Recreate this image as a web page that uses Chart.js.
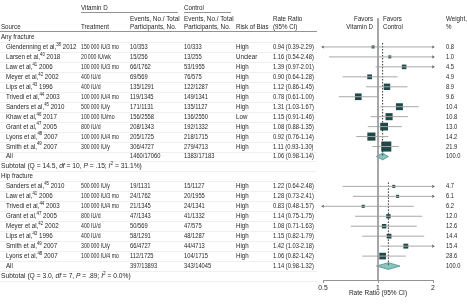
<!DOCTYPE html>
<html>
<head>
<meta charset="utf-8">
<script src="https://cdn.jsdelivr.net/npm/chart.js@4.4.1/dist/chart.umd.min.js"></script>
<style>
  html, body { margin: 0; padding: 0; background: #fff; }
  #wrap { width: 467px; height: 304px; position: relative; }
</style>
</head>
<body>
<div id="wrap"><canvas id="forest"></canvas></div>
<script>
// ---- any fracture
var anyAuthor = ['Glendenning et al', 'Larsen et al', 'Law et al', 'Meyer et al', 'Lips et al', 'Trivedi et al', 'Sanders et al', 'Khaw et al', 'Grant et al', 'Lyons et al', 'Smith et al'];
var anyRef = ['38', '40', '41', '42', '43', '44', '45', '46', '47', '48', '49'];
var anyYear = ['2012', '2018', '2006', '2002', '1996', '2003', '2010', '2017', '2005', '2007', '2007'];
var anyDose = ['150\u2009000 IU/3 mo', '20\u2009000 IU/wk', '100\u2009000 IU/3 mo', '400 IU/d', '400 IU/d', '100\u2009000 IU/4 mo', '500\u2009000 IU/y', '100\u2009000 IU/mo', '800 IU/d', '100\u2009000 IU/4 mo', '300\u2009000 IU/y'];
var anyVitD = ['10/353', '15/256', '66/1762', '69/569', '135/1291', '119/1345', '171/1131', '156/2558', '208/1343', '205/1725', '306/4727'];
var anyCtrl = ['10/333', '13/255', '53/1955', '76/575', '122/1287', '149/1341', '135/1127', '136/2550', '192/1332', '218/1715', '279/4713'];
var anyBias = ['High', 'Unclear', 'High', 'High', 'High', 'High', 'High', 'Low', 'High', 'High', 'High'];
var anyRR = [0.94, 1.16, 1.39, 0.90, 1.12, 0.78, 1.31, 1.15, 1.08, 0.92, 1.11];
var anyLo = [0.39, 0.54, 0.97, 0.64, 0.86, 0.61, 1.03, 0.91, 0.88, 0.76, 0.93];
var anyHi = [2.29, 2.48, 2.01, 1.28, 1.45, 1.00, 1.67, 1.46, 1.35, 1.14, 1.30];
var anyWeight = [0.8, 1.0, 4.5, 4.9, 8.9, 9.6, 10.4, 10.8, 13.0, 14.2, 21.9];
var anyPooled = [1.06, 0.98, 1.14];
var anyPooledEvents = ['1460/17060', '1383/17183'];
var anySubtotal = [['Subtotal (Q = 14.5, ', 'n'], ['df', 'i'], [' = 10, ', 'n'], ['P', 'i'], [' = .15; ', 'n'], ['I', 'i'], ['2', 'sup'], [' = 31.1%)', 'n']];

// ---- hip fracture
var hipAuthor = ['Sanders et al', 'Law et al', 'Trivedi et al', 'Grant et al', 'Meyer et al', 'Lips et al', 'Smith et al', 'Lyons et al'];
var hipRef = ['45', '41', '44', '47', '42', '43', '49', '48'];
var hipYear = ['2010', '2006', '2003', '2005', '2002', '1996', '2007', '2007'];
var hipDose = ['500\u2009000 IU/y', '100\u2009000 IU/3 mo', '100\u2009000 IU/4 mo', '800 IU/d', '400 IU/d', '400 IU/d', '300\u2009000 IU/y', '100\u2009000 IU/4 mo'];
var hipVitD = ['19/1131', '24/1762', '21/1345', '47/1343', '50/569', '58/1291', '66/4727', '112/1725'];
var hipCtrl = ['15/1127', '20/1955', '24/1341', '41/1332', '47/575', '48/1287', '44/4713', '104/1715'];
var hipBias = ['High', 'High', 'High', 'High', 'High', 'High', 'High', 'High'];
var hipRR = [1.22, 1.28, 0.83, 1.14, 1.08, 1.15, 1.42, 1.06];
var hipLo = [0.64, 0.73, 0.48, 0.75, 0.71, 0.82, 1.03, 0.82];
var hipHi = [2.48, 2.41, 1.57, 1.75, 1.63, 1.79, 2.18, 1.42];
var hipWeight = [4.7, 6.1, 6.2, 12.0, 12.6, 14.4, 15.4, 28.6];
var hipPooled = [1.14, 0.98, 1.32];
var hipPooledEvents = ['397/13893', '343/14045'];
var hipSubtotal = [['Subtotal (Q = 3.0, ', 'n'], ['df', 'i'], [' = 7, ', 'n'], ['P', 'i'], [' = .89; ', 'n'], ['I', 'i'], ['2', 'sup'], [' = 0.0%)', 'n']];

var axisTicks = [0.5, 1, 2];

// ---- styling
var FONT = "'Liberation Sans', Arial, sans-serif";
var FS = 7.2;
var SX = 0.86;      // horizontal squeeze to mimic the condensed journal face
var INK = '#262626';
var SQUARE = '#1f4848';
var CI_GRAY = '#a8a8a8';
var RULE = '#ececec';
var XMIN = axisTicks[0], XMAX = axisTicks[axisTicks.length - 1];

// build the table rows
var rows = [];
function addGroup(title, author, ref, year, dose, vitd, ctrl, bias, rr, lo, hi, w, pooled, pooledEv, subtotal, scale) {
  rows.push({ kind: 'group', text: title });
  for (var i = 0; i < author.length; i++) {
    rows.push({ kind: 'study', author: author[i], ref: ref[i], year: year[i], dose: dose[i], vitd: vitd[i], ctrl: ctrl[i],
      bias: bias[i], rr: rr[i], lo: lo[i], hi: hi[i], w: w[i], scale: scale });
  }
  rows.push({ kind: 'all', vitd: pooledEv[0], ctrl: pooledEv[1], rr: pooled[0], lo: pooled[1], hi: pooled[2], w: 100 });
  rows.push({ kind: 'subtotal', parts: subtotal });
}
addGroup('Any fracture', anyAuthor, anyRef, anyYear, anyDose, anyVitD, anyCtrl, anyBias, anyRR, anyLo, anyHi, anyWeight, anyPooled, anyPooledEvents, anySubtotal, 2.15);
addGroup('Hip fracture', hipAuthor, hipRef, hipYear, hipDose, hipVitD, hipCtrl, hipBias, hipRR, hipLo, hipHi, hipWeight, hipPooled, hipPooledEvents, hipSubtotal, 1.25);

function fmt(v) { return v.toFixed(2); }
function clampX(v) { return Math.min(XMAX, Math.max(XMIN, v)); }

// datasets from rows
var ciData = [], arrowData = [], arrowRot = [], sqData = [], sqRadius = [], diamonds = [], dotted = [];
var groupStart = 0;
rows.forEach(function (r, i) {
  if (r.kind === 'group') groupStart = i;
  if (r.kind === 'study') {
    ciData.push({ x: clampX(r.lo), y: i }, { x: clampX(r.hi), y: i }, { x: null, y: null });
    if (r.lo < XMIN) { arrowData.push({ x: XMIN, y: i }); arrowRot.push(-90); }
    if (r.hi > XMAX) { arrowData.push({ x: XMAX, y: i }); arrowRot.push(90); }
    var side = Math.max(3, r.scale * Math.sqrt(r.w));
    sqData.push({ x: r.rr, y: i });
    sqRadius.push(side / Math.SQRT2);
  }
  if (r.kind === 'all') {
    var h = 0.34;
    diamonds.push([{ x: r.lo, y: i }, { x: r.rr, y: i - h }, { x: r.hi, y: i }, { x: r.rr, y: i + h }, { x: r.lo, y: i }]);
    dotted.push([{ x: r.rr, y: groupStart + 0.6 }, { x: r.rr, y: i }]);
  }
});

var datasets = [
  { type: 'scatter', data: [{ x: 1, y: -1.9 }, { x: 1, y: rows.length - 0.6 }], showLine: true, borderColor: '#9a9a9a', borderWidth: 1, pointRadius: 0, clip: false },
  { type: 'scatter', data: ciData, showLine: true, spanGaps: false, borderColor: CI_GRAY, borderWidth: 1, pointRadius: 0, clip: false },
  { type: 'scatter', data: arrowData, pointStyle: 'triangle', rotation: arrowRot, pointRadius: 1.8, backgroundColor: '#555', borderWidth: 0, clip: false }
];
dotted.forEach(function (d) {
  datasets.push({ type: 'scatter', data: d, showLine: true, borderColor: '#333', borderWidth: 1, borderDash: [1.5, 1.5], pointRadius: 0, clip: false });
});
datasets.push({ type: 'scatter', data: sqData, pointStyle: 'rect', pointRadius: sqRadius, backgroundColor: SQUARE, borderWidth: 0, clip: false });
diamonds.forEach(function (d) {
  datasets.push({ type: 'line', data: d, fill: 'shape', backgroundColor: '#86c4bc', borderColor: '#4f928b', borderWidth: 0.8, pointRadius: 0, tension: 0, clip: false });
});

// squeezed text helpers
function put(ctx, str, x, y, sx, align) {
  ctx.save();
  ctx.translate(x, y);
  ctx.scale(sx || SX, 1);
  ctx.textAlign = align || 'left';
  ctx.fillText(str, 0, 0);
  ctx.restore();
}
function drawRich(ctx, parts, x, y, sx) {
  parts.forEach(function (p) {
    var t = p[0], s = p[1];
    ctx.font = (s === 'i' ? 'italic ' : '') + (s === 'sup' ? FS * 0.7 : FS) + 'px ' + FONT;
    put(ctx, t, x, s === 'sup' ? y - FS * 0.35 : y, sx);
    x += ctx.measureText(t).width * sx;
  });
  ctx.font = FS + 'px ' + FONT;
}

var COL = { src: 1, study: 6, dose: 81, vitd: 130, ctrl: 184, bias: 236, rr: 273, w: 446 };

var tablePlugin = {
  id: 'table',
  afterDraw: function (chart) {
    var ctx = chart.ctx, ys = chart.scales.y, xs = chart.scales.x;
    ctx.save();
    ctx.fillStyle = INK;
    ctx.textBaseline = 'middle';
    ctx.font = FS + 'px ' + FONT;

    // header
    put(ctx, 'Vitamin D', COL.dose, 8.5);
    put(ctx, 'Control', COL.ctrl, 8.5);
    put(ctx, 'Events, No./ Total', COL.vitd, 19, 0.88);
    put(ctx, 'Participants, No.', COL.vitd, 27, 0.88);
    put(ctx, 'Events, No./ Total', COL.ctrl, 19, 0.88);
    put(ctx, 'Participants, No.', COL.ctrl, 27, 0.88);
    put(ctx, 'Source', COL.src, 27);
    put(ctx, 'Treatment', COL.dose, 27);
    put(ctx, 'Risk of Bias', COL.bias, 27);
    put(ctx, 'Rate Ratio', COL.rr, 19);
    put(ctx, '(95% CI)', COL.rr, 27);
    put(ctx, 'Weight,', COL.w, 19);
    put(ctx, '%', COL.w, 27);
    var p1 = xs.getPixelForValue(1);
    put(ctx, 'Favors', p1 - 5, 19, SX, 'right');
    put(ctx, 'Vitamin D', p1 - 5, 27, SX, 'right');
    put(ctx, 'Favors', p1 + 5, 19);
    put(ctx, 'Control', p1 + 5, 27);

    ctx.strokeStyle = '#777';
    ctx.lineWidth = 0.8;
    ctx.beginPath();
    ctx.moveTo(COL.dose, 12.5); ctx.lineTo(178, 12.5);
    ctx.moveTo(COL.ctrl, 12.5); ctx.lineTo(231, 12.5);
    ctx.moveTo(0, 31.5); ctx.lineTo(317, 31.5);
    ctx.stroke();

    // row rules
    ctx.strokeStyle = RULE;
    ctx.lineWidth = 0.8;
    ctx.beginPath();
    for (var k = 0; k < rows.length; k++) {
      var yy = Math.round(ys.getPixelForValue(k + 0.5)) + 0.5;
      ctx.moveTo(0, yy); ctx.lineTo(317, yy);
    }
    ctx.stroke();

    rows.forEach(function (r, i) {
      var y = ys.getPixelForValue(i);
      ctx.font = FS + 'px ' + FONT;
      ctx.fillStyle = INK;
      if (r.kind === 'group') {
        put(ctx, r.text, COL.src, y);
      } else if (r.kind === 'subtotal') {
        drawRich(ctx, r.parts, COL.src, y, 0.93);
      } else {
        if (r.kind === 'study') {
          drawRich(ctx, [[r.author + ',', 'n'], [r.ref, 'sup'], [' ' + r.year, 'n']], COL.study, y, 0.86);
          put(ctx, r.dose, COL.dose, y, 0.72);
          put(ctx, r.bias, COL.bias, y);
        } else {
          put(ctx, 'All', COL.study, y);
        }
        put(ctx, r.vitd, COL.vitd, y, 0.8);
        put(ctx, r.ctrl, COL.ctrl, y, 0.8);
        put(ctx, fmt(r.rr) + ' (' + fmt(r.lo) + '-' + fmt(r.hi) + ')', COL.rr, y, 0.8);
        put(ctx, r.w.toFixed(1), COL.w, y, 0.8);
      }
    });
    ctx.restore();
  }
};

var chart = new Chart(document.getElementById('forest').getContext('2d'), {
  type: 'scatter',
  data: { datasets: datasets },
  options: {
    responsive: true,
    maintainAspectRatio: false,
    animation: false,
    devicePixelRatio: 1,
    layout: { padding: { left: 323, right: 34, top: 3.76, bottom: 0 } },
    plugins: { legend: { display: false }, tooltip: { enabled: false } },
    scales: {
      x: {
        type: 'logarithmic',
        min: XMIN,
        max: XMAX,
        afterBuildTicks: function (s) { s.ticks = axisTicks.map(function (v) { return { value: v }; }); },
        afterFit: function (s) { s.height = 24; },
        grid: { display: true, drawOnChartArea: false, drawTicks: true, tickLength: 3, color: '#777', lineWidth: 0.8 },
        border: { display: true, color: '#777', width: 0.8 },
        ticks: { padding: 1, color: INK, font: { family: "'Liberation Sans Narrow', 'Liberation Sans', sans-serif", size: 6.8 }, maxRotation: 0, autoSkip: false,
          callback: function (v) { return String(v); } },
        title: { display: true, text: 'Rate Ratio (95% CI)', color: INK, font: { family: "'Liberation Sans Narrow', 'Liberation Sans', sans-serif", size: 6.5 }, padding: { top: 0, bottom: 7 } }
      },
      y: {
        type: 'linear',
        reverse: true,
        min: -3,
        max: 24.4,
        display: false
      }
    }
  },
  plugins: [tablePlugin]
});
</script>
</body>
</html>
